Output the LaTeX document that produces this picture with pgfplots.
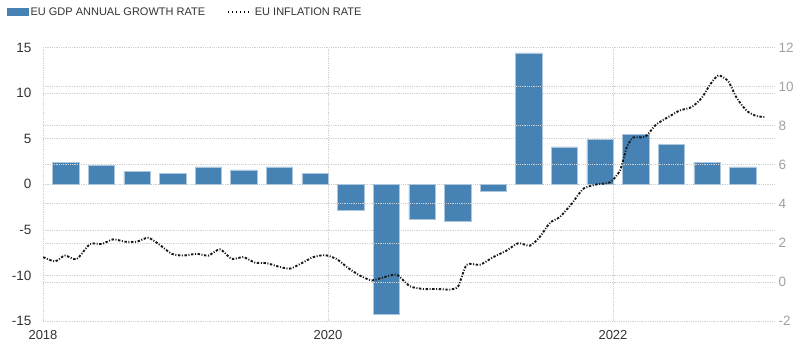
\documentclass[border=0pt]{standalone}
\usepackage{pgfplots}
\pgfplotsset{compat=1.18}
\usepackage{fontspec}
\setmainfont{Liberation Sans}
\definecolor{barblue}{HTML}{4682B4}
\definecolor{gridc}{HTML}{D0D0D0}
\definecolor{lab}{HTML}{333333}
\definecolor{rlab}{HTML}{A0A0A0}

\begin{document}
\begin{tikzpicture}
\path[use as bounding box] (-43pt,-36pt) rectangle (757pt,321pt);
\begin{axis}[
  at={(0pt,0pt)}, anchor=south west,
  scale only axis, width=732pt, height=273.5pt,
  xmin=2018, xmax=2023.137, ymin=-15, ymax=15,
  axis line style={draw=none},
  xtick={2018,2020,2022}, xticklabels={2018,2020,2022},
  ytick={-15,-10,...,15},
  grid=major, grid style={gridc, line width=0.6pt, dash pattern=on 0.7pt off 1.1pt},
  tick style={draw=none},
  /pgf/number format/assume math mode=true,
  yticklabel style={font=\fontsize{13.5}{14}\selectfont, text=lab, xshift=-8pt},
  xticklabel style={font=\fontsize{13}{14}\selectfont, text=lab, yshift=-6pt},
]
\addplot[ybar, bar width=0.185, fill=barblue, draw=white!55!barblue, line width=0.5pt] coordinates {
(2018.16,2.4) (2018.41,2.1) (2018.66,1.43) (2018.91,1.2)
(2019.16,1.9) (2019.41,1.57) (2019.66,1.9) (2019.91,1.2)
(2020.16,-2.86) (2020.41,-14.3) (2020.66,-3.8) (2020.91,-4.1)
(2021.16,-0.73) (2021.41,14.4) (2021.66,4.1) (2021.91,4.9)
(2022.16,5.5) (2022.41,4.4) (2022.66,2.4) (2022.91,1.9)
};
\end{axis}
\begin{axis}[
  at={(0pt,0pt)}, anchor=south west,
  scale only axis, width=732pt, height=273.5pt,
  xmin=2018, xmax=2023.137, ymin=-2, ymax=12,
  axis x line=none, axis y line*=right,
  axis line style={draw=none},
  ytick={-2,0,...,12},
  ymajorgrids, grid style={gridc, line width=0.6pt, dash pattern=on 0.7pt off 1.1pt},
  tick style={draw=none},
  /pgf/number format/assume math mode=true,
  yticklabel style={font=\fontsize{13.5}{14}\selectfont, text=rlab},
  legend columns=2,
  legend style={at={(0,1)}, anchor=west, xshift=-36pt, yshift=35.5pt,
    draw=none, fill=none, inner sep=0pt,
    font=\fontsize{11}{12}\selectfont, text=lab,
    /tikz/every even column/.append style={column sep=20pt}},
]
\addlegendimage{legend image code/.code={\fill[barblue] (0pt,-3.5pt) rectangle (21pt,3.5pt);}}
\addlegendentry{EU GDP ANNUAL GROWTH RATE}
\addplot[black!90, line width=1.9pt, smooth, tension=0.4,
  dash pattern=on 2.4pt off 1.6pt on 1pt off 1.6pt,
  legend image code/.code={\draw[black, line width=1.7pt, dash pattern=on 1.4pt off 2.6pt] (0pt,0pt) -- (24pt,0pt);}] coordinates {
(2018.002,1.27) (2018.084,1.05) (2018.154,1.35) (2018.236,1.17)
(2018.330,1.94) (2018.412,1.94) (2018.493,2.18) (2018.575,2.06)
(2018.658,2.06) (2018.739,2.26) (2018.821,1.89) (2018.903,1.44)
(2018.985,1.35) (2019.079,1.44) (2019.160,1.35) (2019.242,1.67)
(2019.324,1.18) (2019.406,1.27) (2019.488,0.99) (2019.570,0.96)
(2019.651,0.79) (2019.733,0.68) (2019.815,0.96) (2019.897,1.27)
(2019.979,1.37) (2020.061,1.17) (2020.142,0.71) (2020.225,0.32)
(2020.307,0.08) (2020.388,0.23) (2020.482,0.37) (2020.575,-0.22)
(2020.669,-0.36) (2020.763,-0.36) (2020.856,-0.39) (2020.914,-0.22)
(2020.973,0.88) (2021.067,0.88) (2021.160,1.27) (2021.254,1.61)
(2021.335,1.98) (2021.418,1.86) (2021.488,2.32) (2021.558,3.03)
(2021.628,3.33) (2021.710,4.0) (2021.792,4.77) (2021.886,4.99)
(2021.979,5.1) (2022.049,5.7) (2022.096,6.88) (2022.142,7.39)
(2022.225,7.43) (2022.305,8.07) (2022.400,8.49) (2022.470,8.78)
(2022.552,8.95) (2022.623,9.42) (2022.681,10.1) (2022.739,10.57)
(2022.809,10.27) (2022.868,9.42) (2022.940,8.75) (2023.008,8.49)
(2023.067,8.44)
};
\addlegendentry{EU INFLATION RATE}
\end{axis}
\end{tikzpicture}
\end{document}
